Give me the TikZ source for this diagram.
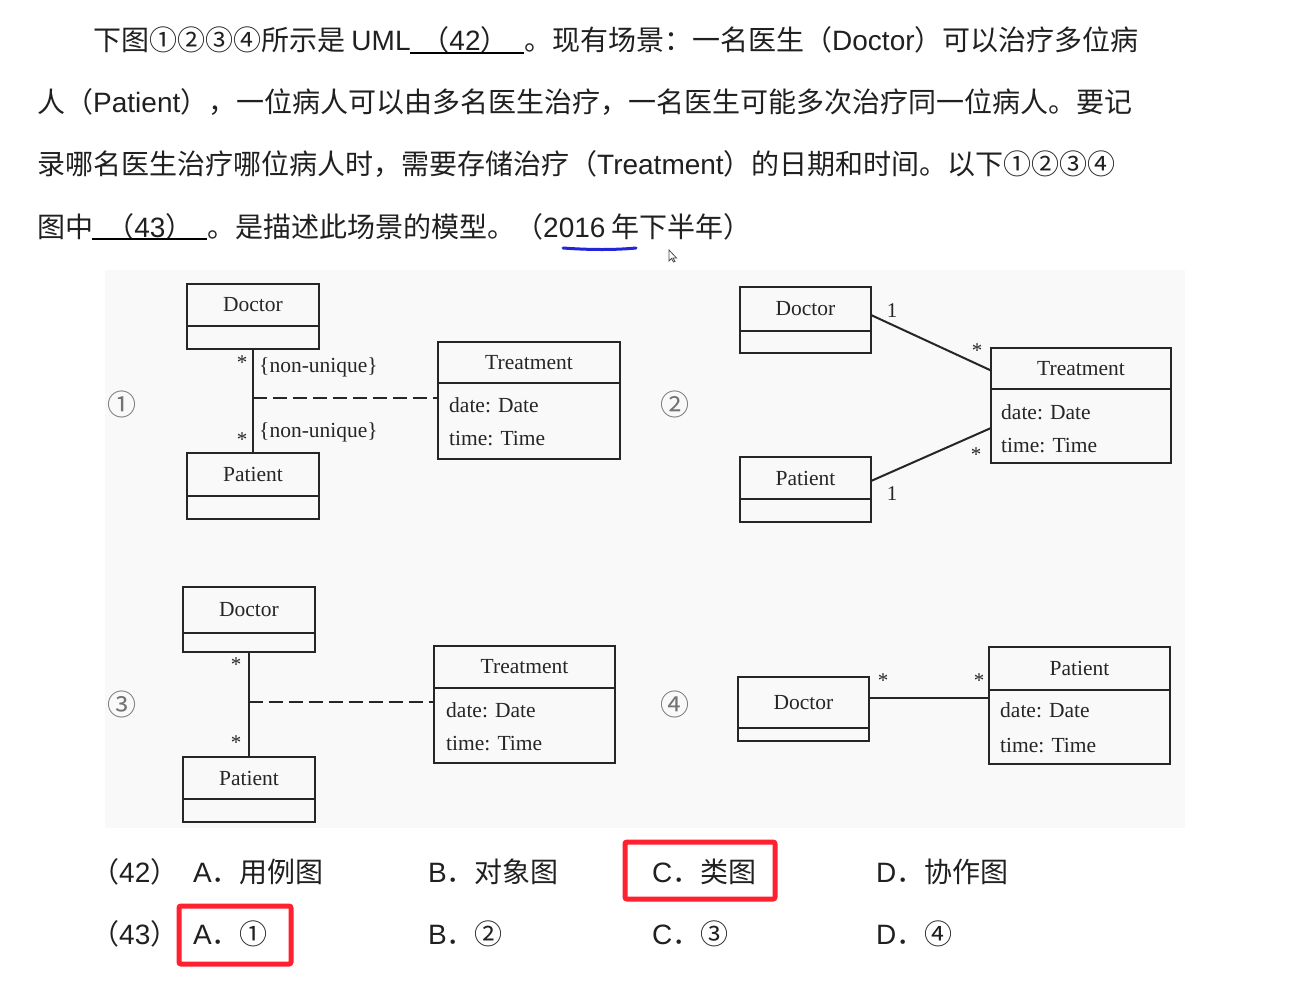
\documentclass[tikz,border=0pt]{standalone}
\usepackage{fontspec}
\setmainfont{Noto Sans CJK SC}
\newfontfamily\lat{Liberation Sans}
\newfontfamily\ser{Liberation Serif}
\usetikzlibrary{calc}
\definecolor{ink}{HTML}{202020}
\definecolor{umlc}{HTML}{262626}
\definecolor{redbox}{HTML}{FF2030}
\definecolor{penblue}{HTML}{2424D8}
\tikzset{
  body/.style={inner sep=0pt, text=ink, font=\fontsize{28}{33}\selectfont},
  cbox/.style={draw=umlc, line width=2pt, inner sep=0pt, outer sep=0pt, text=umlc, font=\fontsize{21.5}{26}\ser},
  attr/.style={inner sep=0pt, text=umlc, font=\fontsize{21.5}{26}\ser, anchor=west},
  mult/.style={inner sep=0pt, text=umlc, font=\fontsize{21}{24}\ser},
  conn/.style={draw=umlc, line width=2pt},
  dconn/.style={draw=umlc, line width=2pt, dash pattern=on 14pt off 6pt},
  numlab/.style={inner sep=0pt, text=black!55, font=\fontsize{29}{32}\selectfont},
  answer/.style={inner sep=0pt, anchor=base west, text=ink, font=\fontsize{28}{33}\selectfont},
  redmark/.style={draw=redbox, line width=5pt, rounded corners=2pt}
}
% name, x-left, y-top, width, h-top, h-bottom, label
\newcommand\umlcls[7]{%
  \node[cbox, minimum width=#4pt, minimum height=#5pt, anchor=north west] (#1) at (#2,#3) {#7};
  \node[cbox, minimum width=#4pt, minimum height=#6pt, anchor=north] (#1b) at (#1.south) {};
}
\begin{document}
\begin{tikzpicture}[x=1pt,y=-1pt]
\useasboundingbox (0,0) rectangle (1297,983);
\fill[white] (0,0) rectangle (1297,983);
\fill[black!2.5] (105,270) rectangle (1185,828);

% ---------------- question text ----------------
\node[body, anchor=base west] (l1a) at (93,50) {下图①②③④所示是 {\lat UML}};
\node[body, anchor=base] (l1b) at (465,50) {（{\lat 42}）};
\node[body, anchor=base west] (l1c) at (524,50) {。现有场景：一名医生（{\lat Doctor}）可以治疗多位病};
\node[body, anchor=base west] (l2) at (37,112) {人（{\lat Patient}），一位病人可以由多名医生治疗，一名医生可能多次治疗同一位病人。要记};
\node[body, anchor=base west] (l3) at (37,174) {录哪名医生治疗哪位病人时，需要存储治疗（{\lat Treatment}）的日期和时间。以下①②③④};
\node[body, anchor=base west] (l4a) at (37,237) {图中};
\node[body, anchor=base] (l4b) at (150,237) {（{\lat 43}）};
\node[body, anchor=base west] (l4c) at (207,237) {。是描述此场景的模型。（{\lat 2016} 年下半年）};
\draw[line width=2pt, black] (410,53) -- (524,53);
\draw[line width=2pt, black] (92,239) -- (207,239);
\draw[line width=3pt, penblue, line cap=round] (563,248) .. controls (590,250) and (615,250) .. (636,248);
\draw[black!70, line width=0.8pt, fill=white] (669,250) -- (669,261) -- (671.5,258.5) -- (673.5,262) -- (675,261.3) -- (673,258) -- (676.5,258) -- cycle;

% ---------------- diagram 1 ----------------
\node[numlab] (n1) at (122,404) {①};
\umlcls{d1}{187}{284}{132}{42}{23}{Doctor}
\umlcls{p1}{187}{453}{132}{43}{23}{Patient}
\umlcls{t1}{438}{342}{182}{41}{76}{Treatment}
\node[attr] (t1a) at (449,405) {date: Date};
\node[attr] (t1c) at (449,439) {time: Time};
\draw[conn] (d1b.south) -- (p1.north);
\coordinate (m1) at ($(d1b.south)!0.471!(p1.north)$);
\draw[dconn] (m1) -- (m1 -| t1b.west);
\node[mult] (s1a) at (242,363) {*};
\node[mult] (s1b) at (242,440) {*};
\node[attr] (u1a) at (259,367) {\{non-unique\}};
\node[attr] (u1b) at (259,432) {\{non-unique\}};

% ---------------- diagram 2 ----------------
\node[numlab] (n2) at (675,404) {②};
\umlcls{d2}{740}{287}{131}{44}{22}{Doctor}
\umlcls{p2}{740}{457}{131}{42}{23}{Patient}
\umlcls{t2}{991}{348}{180}{41}{74}{Treatment}
\node[attr] (t2a) at (1001,412) {date: Date};
\node[attr] (t2c) at (1001,446) {time: Time};
\coordinate (e2a) at ($(d2.east)+(0,6)$);
\coordinate (e2b) at ($(t2.west)+(0,2)$);
\coordinate (e2c) at ($(p2.east)+(0,3)$);
\coordinate (e2d) at ($(t2b.west)+(0,2)$);
\draw[conn] (e2a) -- (e2b);
\draw[conn] (e2c) -- (e2d);
\node[mult] (o2a) at (892,311) {1};
\node[mult] (s2a) at (977,351) {*};
\node[mult] (o2b) at (892,494) {1};
\node[mult] (s2b) at (976,455) {*};

% ---------------- diagram 3 ----------------
\node[numlab] (n3) at (122,704) {③};
\umlcls{d3}{183}{587}{132}{46}{19}{Doctor}
\umlcls{p3}{183}{757}{132}{42}{23}{Patient}
\umlcls{t3}{434}{646}{181}{42}{75}{Treatment}
\node[attr] (t3a) at (446,710) {date: Date};
\node[attr] (t3c) at (446,744) {time: Time};
\draw[conn] (d3b.south) -- (p3.north);
\coordinate (m3) at ($(d3b.south)!0.476!(p3.north)$);
\draw[dconn] (m3) -- (m3 -| t3b.west);
\node[mult] (s3a) at (236,665) {*};
\node[mult] (s3b) at (236,743) {*};

% ---------------- diagram 4 ----------------
\node[numlab] (n4) at (675,704) {④};
\umlcls{d4}{738}{677}{131}{51}{13}{Doctor}
\umlcls{p4}{989}{647}{181}{43}{74}{Patient}
\node[attr] (p4a) at (1000,710) {date: Date};
\node[attr] (p4c) at (1000,746) {time: Time};
\coordinate (e4a) at ($(d4.east)+(0,-5)$);
\coordinate (e4b) at (e4a -| p4b.west);
\draw[conn] (e4a) -- (e4b);
\node[mult] (s4a) at (883,681) {*};
\node[mult] (s4b) at (979,681) {*};

% ---------------- answers ----------------
\node[answer] (q42) at (91,882) {（{\lat 42}）};
\node[answer] (a42) at (193,882) {{\lat A}．用例图};
\node[answer] (b42) at (428,882) {{\lat B}．对象图};
\node[answer] (c42) at (652,882) {{\lat C}．类图};
\node[answer] (e42) at (876,882) {{\lat D}．协作图};
\node[answer] (q43) at (91,944) {（{\lat 43}）};
\node[answer] (a43) at (193,944) {{\lat A}．①};
\node[answer] (b43) at (428,944) {{\lat B}．②};
\node[answer] (c43) at (652,944) {{\lat C}．③};
\node[answer] (e43) at (876,944) {{\lat D}．④};
\draw[redmark] (625,842) rectangle (775,899);
\draw[redmark] (179,906) rectangle (291,964);
\end{tikzpicture}
\end{document}
